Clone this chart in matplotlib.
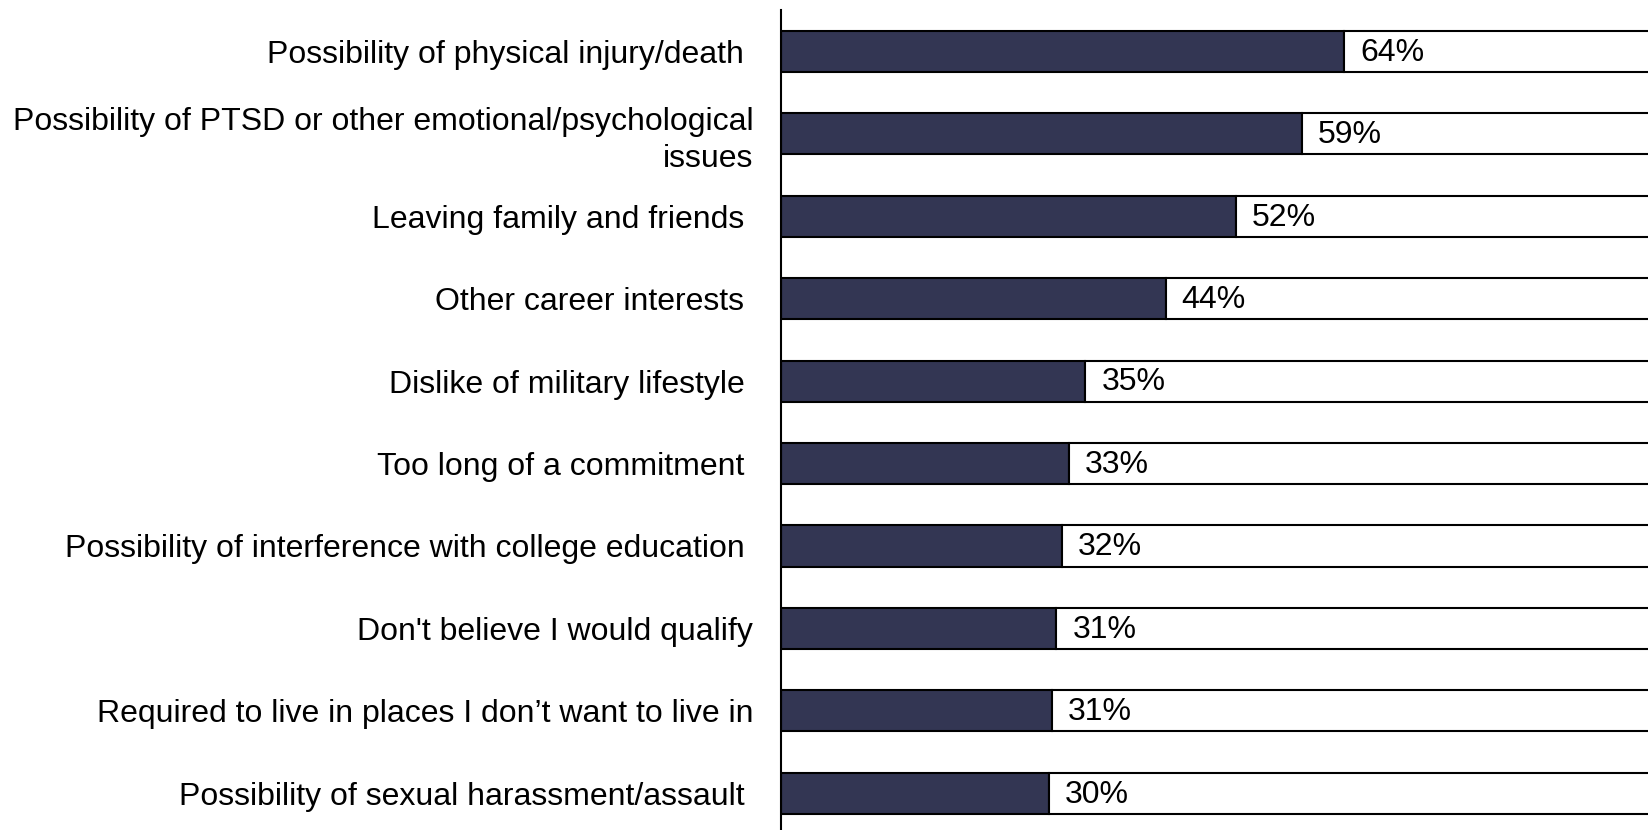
import matplotlib
matplotlib.use('Agg')
import matplotlib.pyplot as plt

plt.rcParams['font.family'] = ['Liberation Sans', 'DejaVu Sans']

# reasons for not joining, share of respondents (%)
reasons = [
    'Possibility of physical injury/death ',
    'Possibility of PTSD or other emotional/psychological\nissues',
    'Leaving family and friends ',
    'Other career interests ',
    'Dislike of military lifestyle ',
    'Too long of a commitment ',
    'Possibility of interference with college education ',
    "Don't believe I would qualify",
    'Required to live in places I don\u2019t want to live in',
    'Possibility of sexual harassment/assault ',
]
# bar lengths, labels as printed
pct = [64.0, 59.2, 51.7, 43.7, 34.6, 32.7, 31.9, 31.3, 30.8, 30.4]
pct_labels = ['64%', '59%', '52%', '44%', '35%', '33%', '32%', '31%', '31%', '30%']
total = 100

navy = '#333653'
fs = 23

fig = plt.figure(figsize=(16.49, 8.30), dpi=100)
# axes run a bit past the right edge, like the source image
ax = fig.add_axes([781/1649, -0.0052, 880/1649, 0.9928])

ypos = list(range(len(reasons)))
rest = [total - v for v in pct]
ax.barh(ypos, pct, height=0.5, color=navy, edgecolor='black', linewidth=1.5, zorder=2)
ax.barh(ypos, rest, left=pct, height=0.5, color='white', edgecolor='black', linewidth=1.5, zorder=2)

for y, v, lab in zip(ypos, pct, pct_labels):
    ax.annotate(lab, xy=(v, y), xytext=(11.5, -1), textcoords='offset points',
                va='center', ha='left', fontsize=fs)

ax.set_xlim(0, total)
ax.set_ylim(len(reasons) - 0.5, -0.5)
ax.set_yticks(ypos)
ax.set_yticklabels(reasons, fontsize=fs, multialignment='right')
for lab in ax.get_yticklabels():
    lab.set_linespacing(1.3)
ax.tick_params(axis='y', length=0, pad=20)
ax.set_xticks([])
for s in ['top', 'right', 'bottom']:
    ax.spines[s].set_visible(False)
ax.spines['left'].set_linewidth(1.5)
ax.spines['left'].set_zorder(3)

fig.savefig('out.png', dpi=100)
